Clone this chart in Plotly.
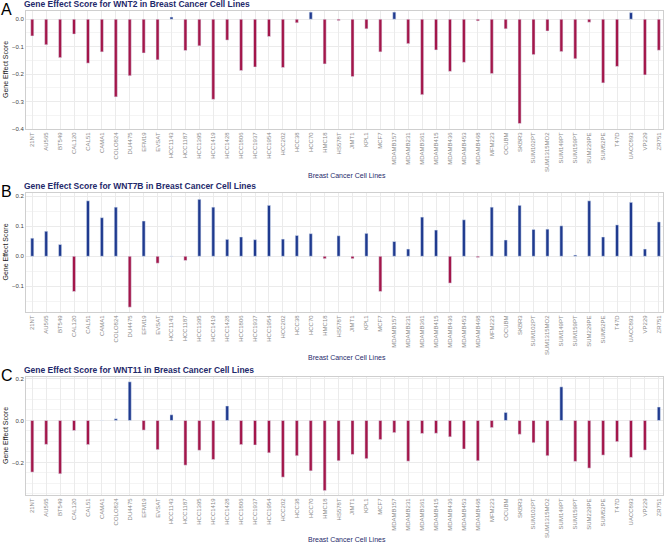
import plotly.graph_objects as go

cell_lines = ["21NT", "AU565", "BT549", "CAL120", "CAL51", "CAMA1", "COLO824", "DU4475",
              "EFM19", "EVSAT", "HCC1143", "HCC1187", "HCC1395", "HCC1419", "HCC1428",
              "HCC1806", "HCC1937", "HCC1954", "HCC202", "HCC38", "HCC70", "HMC18",
              "HS578T", "JIMT1", "KPL1", "MCF7", "MDAMB157", "MDAMB231", "MDAMB361",
              "MDAMB415", "MDAMB436", "MDAMB453", "MDAMB468", "MFM223", "OCUBM", "SKBR3",
              "SUM102PT", "SUM1315MO2", "SUM149PT", "SUM159PT", "SUM229PE", "SUM52PE",
              "T47D", "UACC893", "VP229", "ZR751"]

wnt2 = [-0.061, -0.093, -0.140, -0.054, -0.160, -0.119, -0.283, -0.206, -0.123, -0.148,
        0.008, -0.114, -0.097, -0.292, -0.076, -0.187, -0.174, -0.063, -0.176, -0.013,
        0.026, -0.163, -0.005, -0.209, -0.035, -0.119, 0.026, -0.089, -0.275, -0.112,
        -0.190, -0.157, -0.006, -0.198, -0.035, -0.380, -0.129, -0.043, -0.118, -0.144,
        -0.011, -0.232, -0.172, 0.024, -0.203, -0.113]

wnt7b = [0.060, 0.083, 0.039, -0.117, 0.184, 0.128, 0.163, -0.169, 0.117, -0.023,
         0.0005, -0.014, 0.189, 0.163, 0.056, 0.064, 0.055, 0.169, 0.057, 0.069,
         0.075, -0.008, 0.068, -0.008, 0.076, -0.117, 0.049, 0.024, 0.130, 0.087,
         -0.089, 0.121, -0.004, 0.163, 0.054, 0.169, 0.089, 0.090, 0.101, 0.004,
         0.184, 0.064, 0.104, 0.179, 0.024, 0.114]

wnt11 = [-0.246, -0.114, -0.254, -0.048, -0.115, 0.0005, 0.008, 0.184, -0.046, -0.139,
         0.027, -0.213, -0.142, -0.186, 0.069, -0.115, -0.117, -0.154, -0.270, -0.168,
         -0.240, -0.334, -0.192, -0.162, -0.182, -0.091, -0.058, -0.194, -0.062, -0.061,
         -0.078, -0.136, -0.192, -0.034, 0.038, -0.066, -0.106, -0.168, 0.160, -0.195,
         -0.227, -0.165, -0.101, -0.176, -0.141, 0.064]

genes = ["WNT2", "WNT7B", "WNT11"]
letters = ["A", "B", "C"]
y_ranges = [[-0.4, 0.03], [-0.185, 0.21], [-0.355, 0.207]]
y_ticks = [[-0.4, -0.3, -0.2, -0.1, 0.0], [-0.1, 0.0, 0.1, 0.2], [-0.2, 0.0, 0.2]]

RED = "#A3164A"
BLUE = "#1F3A8F"
NAVY = "#1F2A6B"
W, H = 669, 544

# pixel boxes of the three panels (top, bottom) and where the x title sits
boxes = [(11, 129), (193, 312), (377, 495)]
xtitle_y = [176, 357, 539]
x_left, x_right = 26, 663

fig = go.Figure()
for i, vals in enumerate([wnt2, wnt7b, wnt11]):
    n = "" if i == 0 else str(i + 1)
    fig.add_trace(go.Bar(
        x=cell_lines, y=vals, width=0.22,
        marker_color=[BLUE if v > 0 else RED for v in vals],
        xaxis="x" + n, yaxis="y" + n, showlegend=False))

    top, bot = boxes[i]
    fig.update_layout(**{
        "xaxis" + n: dict(
            domain=[x_left / W, x_right / W], anchor="y" + n,
            type="category", tickmode="array", tickvals=cell_lines, ticktext=cell_lines,
            range=[-0.45, 45.3],
            tickangle=-90, tickfont=dict(size=6, color="#8a8a8a"),
            showgrid=True, gridcolor="#ebebeb", gridwidth=1,
            showline=True, linecolor="#cfcfcf", mirror=True, linewidth=1,
            ticks="", automargin=False),
        "yaxis" + n: dict(
            domain=[1 - bot / H, 1 - top / H], anchor="x" + n,
            range=y_ranges[i], tickvals=y_ticks[i],
            tickformat=".1f", tickfont=dict(size=6, color="#444444"),
            showgrid=True, gridcolor="#ebebeb", gridwidth=1,
            minor=dict(showgrid=True, gridcolor="#f4f4f4", dtick=0.05),
            zeroline=False, ticks="", automargin=False,
            showline=True, linecolor="#cfcfcf", mirror=True, linewidth=1),
    })

    fig.add_annotation(text="<b>Gene Effect Score for " + genes[i] + " in Breast Cancer Cell Lines</b>",
                       x=22 / W, y=1 - (top - 7) / H, xref="paper", yref="paper",
                       xanchor="left", yanchor="middle", showarrow=False,
                       font=dict(size=8.5, color=NAVY))
    fig.add_annotation(text=letters[i], x=0, y=1 - (top - 2) / H, xref="paper", yref="paper",
                       xanchor="left", yanchor="middle", showarrow=False, xshift=-1,
                       font=dict(size=16, color="black"))
    fig.add_annotation(text="Breast Cancer Cell Lines", x=347 / W, y=1 - xtitle_y[i] / H,
                       xref="paper", yref="paper", xanchor="center", yanchor="middle",
                       showarrow=False, font=dict(size=7, color=NAVY))
    fig.add_annotation(text="Gene Effect Score", x=5 / W, y=1 - (top + bot) / 2 / H,
                       xref="paper", yref="paper", xanchor="center", yanchor="middle",
                       textangle=-90, showarrow=False, font=dict(size=7, color="#222222"))

fig.update_layout(width=W, height=H, margin=dict(l=0, r=0, t=0, b=0),
                  plot_bgcolor="white", paper_bgcolor="white",
                  font=dict(family="Liberation Sans, Arial, sans-serif"))

# the page's default body margin would push the figure 8px down and right
fig.write_html("out.html", config={"displayModeBar": False},
               post_script="document.body.style.margin='0';")
